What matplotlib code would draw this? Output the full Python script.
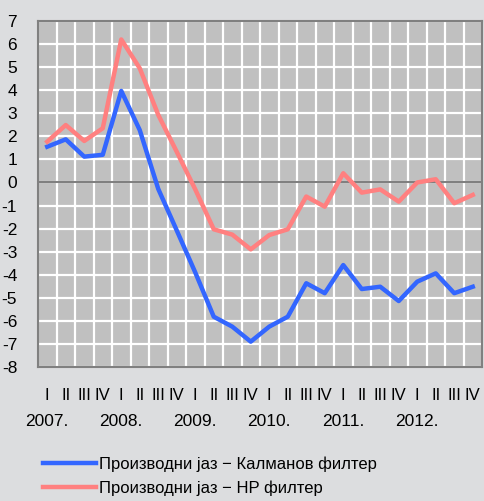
import matplotlib.pyplot as plt
import numpy as np

plt.rcParams['font.family'] = ['Liberation Sans', 'DejaVu Sans']
plt.rcParams['axes.unicode_minus'] = False

years = ['2007.', '2008.', '2009.', '2010.', '2011.', '2012.']
quarters = ['I', 'II', 'III', 'IV']

kalman = [1.55, 1.87, 1.12, 1.2,
          3.97, 2.27, -0.28, -2.08,
          -3.9, -5.82, -6.25, -6.9,
          -6.25, -5.82, -4.37, -4.8,
          -3.58, -4.62, -4.52, -5.14,
          -4.3, -3.94, -4.8, -4.52]
hp = [1.77, 2.49, 1.8, 2.35,
      6.2, 4.95, 2.93, 1.33,
      -0.3, -2.03, -2.26, -2.9,
      -2.28, -2.03, -0.61, -1.05,
      0.4, -0.44, -0.3, -0.83,
      0.0, 0.14, -0.9, -0.54]

label_kalman = 'Производни јаз − Калманов филтер'
label_hp = 'Производни јаз − HP филтер'

bg = '#dcdddf'
fig = plt.figure(figsize=(4.84, 5.01), dpi=100, facecolor=bg)
ax = fig.add_axes([38 / 484, 1 - 367 / 501, 444 / 484, 346 / 501])
ax.set_facecolor('#c0c0c0')

x = np.arange(len(kalman))
ax.plot(x, kalman, color='#3366ff', lw=3.2, label=label_kalman, zorder=3)
ax.plot(x, hp, color='#ff8080', lw=3.2, label=label_hp, zorder=3)

ax.set_xlim(-0.5, len(x) - 0.5)
ax.set_ylim(-8, 7)
ax.set_yticks(np.arange(-8, 8))
ax.set_xticks(x)
ax.set_xticklabels(quarters * len(years), fontsize=12)
ax.set_xticks(np.arange(0.5, len(x) - 0.5), minor=True)
ax.tick_params(axis='x', which='both', length=0, pad=15)
ax.tick_params(axis='y', length=0, pad=15, labelsize=12.5)

ax.grid(axis='y', color='white', lw=1.6, zorder=1)
ax.grid(axis='x', which='minor', color='white', lw=1.6, zorder=1)
ax.axhline(0, color='#808080', lw=1.5, zorder=2)
for s in ax.spines.values():
    s.set_color('#808080')
    s.set_linewidth(1.5)

for i, yr in enumerate(years):
    ax.text(i * 4, -0.158, yr, transform=ax.get_xaxis_transform(),
            ha='center', va='center', fontsize=12.5)

ax.legend(loc='upper left', bbox_to_anchor=(43 / 484, 1 - 456 / 501),
          bbox_transform=fig.transFigure, frameon=False, fontsize=12,
          handlelength=3.2, handletextpad=0.15, borderpad=0,
          borderaxespad=0, labelspacing=0.55)

fig.savefig('out.png', dpi=100, facecolor=bg)
